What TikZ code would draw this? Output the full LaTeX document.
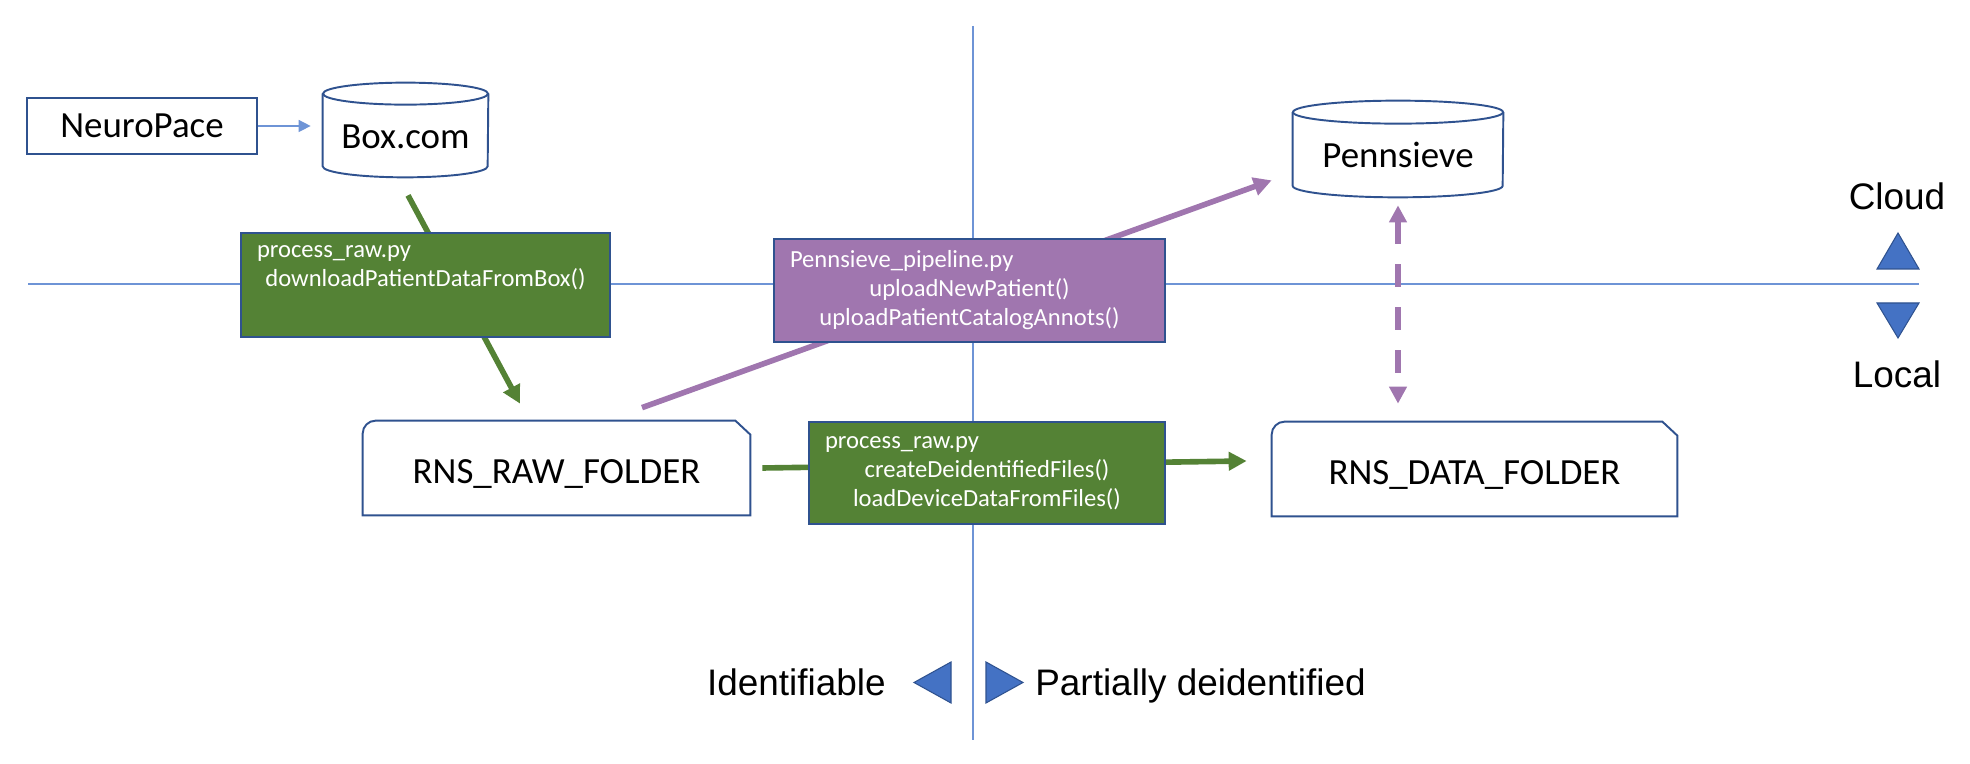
\documentclass[tikz,border=0pt]{standalone}
\usepackage{fontspec}
\setmainfont{Carlito}
\newfontfamily\arialfont{Liberation Sans}
\usetikzlibrary{arrows.meta, positioning}

\definecolor{lineblue}{RGB}{68,114,196}
\definecolor{axisblue}{RGB}{110,148,214}
\definecolor{edgeblue}{RGB}{47,82,143}
\definecolor{codegreen}{RGB}{84,130,53}
\definecolor{codepurple}{RGB}{160,118,175}

\begin{document}
\begin{tikzpicture}[
  boxnode/.style={draw=edgeblue, line width=1.1pt, inner sep=0pt, font=\fontsize{21}{25}\selectfont},
  storenode/.style={inner sep=0pt, text height=0.74cm, text depth=0pt, font=\fontsize{21}{25}\selectfont},
  storeline/.style={draw=edgeblue, line width=1.1pt},
  foldernode/.style={inner sep=0pt, minimum height=1.88cm, text height=0.64cm, text depth=0pt, font=\fontsize{21}{25}\selectfont},
  folderline/.style={draw=edgeblue, line width=1.1pt},
  codebox/.style={draw=edgeblue, line width=0.9pt, text=white, inner xsep=0.32cm, inner ysep=0pt, align=center, font=\fontsize{14}{16.5}\selectfont},
  axis/.style={axisblue, line width=0.7pt},
  marker/.style={fill=lineblue, draw=edgeblue, line width=0.6pt},
  sidelabel/.style={font=\arialfont\fontsize{21}{25}\selectfont, inner sep=0pt},
  greenarrow/.style={codegreen, line width=3.2pt, -{Triangle[length=0.36cm, width=0.36cm]}},
  purplearrow/.style={codepurple, line width=3.2pt, -{Triangle[length=0.36cm, width=0.36cm]}},
]
  \useasboundingbox (0,0) rectangle (39.4,15.28);

  % cloud / local and identifiable / deidentified axes
  \draw[axis] (0.56,9.6) -- (38.38,9.6);
  \draw[axis] (19.46,14.76) -- (19.46,0.48);

  % sources
  \node[boxnode, minimum width=4.6cm, minimum height=1.12cm] (neuro) at (2.84,12.76) {NeuroPace};

  \node[storenode, minimum width=3.3cm, minimum height=1.88cm] (box) at (8.11,12.68) {Box.com};
  \draw[storeline] ([yshift=-0.22cm]box.north west) -- ([yshift=0.22cm]box.south west)
    arc[start angle=180, end angle=360, x radius=1.65cm, y radius=0.22cm] -- ([yshift=-0.22cm]box.north east);
  \draw[storeline] ([yshift=-0.22cm]box.north) ellipse [x radius=1.65cm, y radius=0.22cm];

  \node[storenode, minimum width=4.2cm, minimum height=1.92cm] (penn) at (27.96,12.3) {Pennsieve};
  \draw[storeline] ([yshift=-0.23cm]penn.north west) -- ([yshift=0.23cm]penn.south west)
    arc[start angle=180, end angle=360, x radius=2.1cm, y radius=0.23cm] -- ([yshift=-0.23cm]penn.north east);
  \draw[storeline] ([yshift=-0.23cm]penn.north) ellipse [x radius=2.1cm, y radius=0.23cm];

  % local folders
  \node[foldernode, minimum width=7.74cm] (raw) at (11.13,5.92) {RNS\_RAW\_FOLDER};
  \draw[folderline] (raw.south west) -- ([yshift=-0.26cm]raw.north west) arc[start angle=180, end angle=90, radius=0.26cm]
    -- ([xshift=-0.3cm]raw.north east) -- ([yshift=-0.28cm]raw.north east) -- (raw.south east) -- cycle;

  \node[foldernode, minimum width=8.1cm] (data) at (29.49,5.9) {RNS\_DATA\_FOLDER};
  \draw[folderline] (data.south west) -- ([yshift=-0.26cm]data.north west) arc[start angle=180, end angle=90, radius=0.26cm]
    -- ([xshift=-0.3cm]data.north east) -- ([yshift=-0.28cm]data.north east) -- (data.south east) -- cycle;

  % data flow
  \draw[axisblue, line width=0.8pt, -{Triangle[length=0.24cm, width=0.24cm]}, shorten >=0.24cm] (neuro.east) -- (neuro.east -| box.west);
  \draw[greenarrow] ([xshift=0.05cm, yshift=-0.36cm]box.south) -- ([xshift=-0.73cm, yshift=0.34cm]raw.north);
  \draw[purplearrow] ([xshift=1.71cm, yshift=0.26cm]raw.north) -- ([xshift=-0.42cm, yshift=0.34cm]penn.south west);
  \draw[greenarrow] ([xshift=0.24cm]raw.east) -- ([xshift=-0.5cm, yshift=0.16cm]data.west);
  \draw[codepurple, line width=3.2pt, dash pattern=on 0.46cm off 0.4cm,
    {Triangle[length=0.34cm, width=0.34cm]}-{Triangle[length=0.34cm, width=0.34cm]},
    shorten <=0.16cm, shorten >=0.36cm] (penn.south) -- (penn.south |- data.north);

  % scripts
  \node[codebox, fill=codegreen, text width=6.74cm, minimum height=2.08cm] (download) at (8.51,9.58)
    {\makebox[\linewidth][l]{process\_raw.py}\\ downloadPatientDataFromBox()\\ \strut};
  \node[codebox, fill=codepurple, text width=7.18cm, minimum height=2.06cm] (upload) at (19.39,9.47)
    {\makebox[\linewidth][l]{Pennsieve\_pipeline.py}\\ uploadNewPatient()\\ uploadPatientCatalogAnnots()};
  \node[codebox, fill=codegreen, text width=6.48cm, minimum height=2.04cm] (deident) at (19.74,5.82)
    {\makebox[\linewidth][l]{process\_raw.py}\\ createDeidentifiedFiles()\\ loadDeviceDataFromFiles()};

  % legend
  \node[sidelabel, anchor=base] (cloud) at (37.94,11.08) {Cloud};
  \node[sidelabel, anchor=base] (local) at (37.94,7.535) {Local};
  \draw[marker] (37.54,9.9) -- (38.38,9.9) -- (37.96,10.62) -- cycle;
  \draw[marker] (37.54,9.22) -- (38.38,9.22) -- (37.96,8.52) -- cycle;

  \node[sidelabel, anchor=base east] (ident) at (17.72,1.36) {Identifiable};
  \node[sidelabel, anchor=base west] (partial) at (20.7,1.36) {Partially deidentified};
  \draw[marker] (19.02,2.04) -- (19.02,1.22) -- (18.28,1.63) -- cycle;
  \draw[marker] (19.72,2.04) -- (19.72,1.22) -- (20.46,1.63) -- cycle;

\end{tikzpicture}
\end{document}
